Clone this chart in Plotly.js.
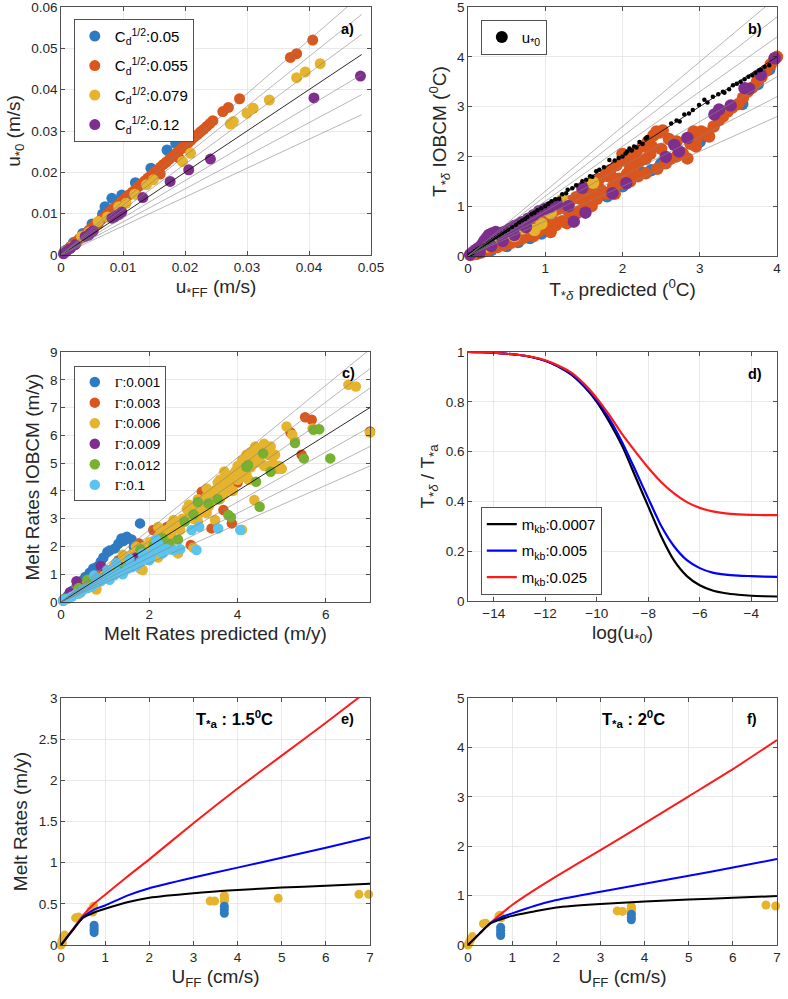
<!DOCTYPE html>
<html>
<head>
<meta charset="utf-8">
<script src="https://cdn.plot.ly/plotly-3.0.1.min.js"></script>
<style>html,body{margin:0;padding:0;background:#fff}#chart{width:788px;height:999px}</style>
</head>
<body>
<div id="chart"></div>
<script>
// ---------- Colors ----------
const C_BLUE = '#2f7bc2', C_ORANGE = '#db561d', C_YELLOW = '#e6b32c', C_PURPLE = '#7e2f8e', C_GREEN = '#78b030', C_CYAN = '#59c4f0';

// ---------- Reference slopes (panels a, b, c) ----------
const refSlopes = [0.7, 0.8, 0.9, 1.0, 1.1, 1.2, 1.3];

// ---------- Panel a ----------
const a_blue_x = [0.0008,0.002,0.0035,0.005,0.0067,0.0071,0.0082,0.0098,0.012,0.0145,0.0171,0.0185,0.0198];
const a_blue_y = [0.0012,0.003,0.0052,0.0075,0.0099,0.0117,0.0137,0.0145,0.0175,0.021,0.0254,0.027,0.029];
const a_orange_x = [0.0005,0.001,0.0015,0.002,0.0025,0.003,0.0035,0.004,0.0045,0.005,0.0055,0.006,0.0065,0.007,0.0075,0.008,0.0085,0.009,0.0095,0.010,0.0105,0.011,0.0115,0.012,0.0125,0.013,0.0135,0.014,0.0145,0.015,0.0155,0.016,0.0165,0.017,0.0175,0.018,0.0185,0.019,0.0195,0.020,0.0205,0.021,0.0215,0.022,0.0225,0.023,0.0235,0.024,0.0245,0.0261,0.027,0.0288,0.037,0.038,0.0406,0.0025,0.0035,0.006,0.008,0.012,0.016,0.019];
const a_orange_y = [0.0007,0.0013,0.002,0.0027,0.0033,0.004,0.0046,0.0053,0.006,0.0066,0.0073,0.008,0.0086,0.0093,0.0099,0.0106,0.0113,0.0119,0.0126,0.0133,0.0139,0.0146,0.0152,0.0159,0.0166,0.0172,0.0179,0.0186,0.0192,0.0199,0.0205,0.0212,0.0219,0.0225,0.0232,0.0238,0.0245,0.0252,0.0258,0.0265,0.0271,0.0278,0.0285,0.0291,0.0298,0.0304,0.0311,0.0318,0.0325,0.0347,0.0357,0.0378,0.0478,0.0487,0.052,0.003,0.0043,0.0075,0.0098,0.0148,0.0196,0.0235];
const a_yellow_x = [0.0008,0.0018,0.0033,0.0045,0.006,0.0075,0.0093,0.0105,0.0119,0.0138,0.0149,0.0196,0.0209,0.0273,0.0278,0.03,0.031,0.0336,0.038,0.0394,0.0418];
const a_yellow_y = [0.0009,0.002,0.0045,0.0055,0.0081,0.0092,0.0117,0.0125,0.0147,0.017,0.0182,0.0226,0.0246,0.0317,0.0323,0.0343,0.0355,0.0375,0.0429,0.0443,0.0463];
const a_purple_x = [0.0004,0.0009,0.0015,0.0023,0.0039,0.0045,0.0047,0.0052,0.0082,0.0087,0.0093,0.0098,0.0132,0.0176,0.0206,0.0241,0.0408,0.0483];
const a_purple_y = [0.0003,0.0009,0.0016,0.0025,0.0045,0.0048,0.0053,0.0058,0.0089,0.0092,0.0098,0.0104,0.0139,0.0178,0.0206,0.0232,0.038,0.0433];
const a_refXmax = 0.0485;

// ---------- Panel b ----------
const b_blue_x = [0.1,0.3,0.5,0.65,0.8,0.95,1.0,1.3,1.4,1.63,1.8,2.0,2.24,2.37,2.5,2.76,3.0,3.25,3.55,3.75,3.9];
const b_blue_y = [0.04,0.12,0.2,0.28,0.36,0.45,0.5,0.68,0.85,1.45,1.2,1.4,1.68,1.72,1.85,2.08,2.3,2.75,3.05,3.45,3.75];
const b_orange_x = [0.03,0.08,0.12,0.17,0.2,0.25,0.3,0.33,0.38,0.42,0.46,0.5,0.55,0.58,0.62,0.66,0.7,0.74,0.78,0.82,0.85,0.88,0.92,0.96,1.0,1.03,1.07,1.1,1.14,1.18,1.22,1.25,1.28,1.32,1.36,1.4,1.44,1.48,1.52,1.56,1.6,1.63,1.67,1.7,1.74,1.78,1.8,1.84,1.88,1.92,1.96,2.0,2.02,2.06,2.1,2.14,2.18,2.22,2.26,2.3,2.33,2.36,2.4,2.44,2.48,2.52,2.45,2.56,2.62,2.7,2.78,2.84,2.88,2.92,2.96,3.02,3.08,3.12,3.18,3.25,3.3,3.36,3.42,3.5,3.56,3.62,3.68,3.74,3.8,3.86,3.92,3.97,4.0,1.9,2.1,1.2,0.98,1.45,1.65,2.2,1.5,1.7,1.9,2.1,2.3,2.5,2.7,1.3,1.1,0.9,2.0,1.58,1.82,2.38,2.6,2.95];
const b_orange_y = [0.02,0.04,0.05,0.07,0.1,0.12,0.15,0.2,0.18,0.25,0.22,0.3,0.26,0.35,0.3,0.42,0.35,0.5,0.42,0.58,0.4,0.65,0.5,0.72,0.55,0.8,0.48,0.88,0.62,0.95,0.7,1.02,0.66,1.1,0.82,1.18,0.9,1.28,1.05,1.38,1.0,1.48,1.15,1.55,1.3,1.62,1.26,1.72,1.4,1.82,1.55,1.46,1.92,1.65,2.0,1.78,2.1,1.9,2.2,1.66,2.3,2.05,2.42,2.5,2.48,2.52,1.75,1.86,1.95,2.0,2.06,1.96,2.25,2.5,2.35,2.5,2.46,2.4,2.6,2.73,2.8,2.9,2.98,3.05,3.18,3.3,3.38,3.5,3.6,3.72,3.85,3.95,4.0,1.25,1.5,1.05,0.88,1.15,1.35,1.6,1.15,1.35,1.55,1.75,1.95,2.15,2.3,0.9,0.7,0.55,2.05,1.25,1.6,2.2,2.35,2.2];
const b_yellow_x = [0.05,0.12,0.25,0.4,0.51,0.6,0.7,0.86,0.95,1.07,1.22,1.62];
const b_yellow_y = [0.04,0.1,0.19,0.35,0.46,0.4,0.55,0.52,0.65,0.86,1.13,1.47];
const b_purple_x = [0.03,0.07,0.1,0.14,0.18,0.21,0.24,0.27,0.31,0.36,0.4,0.45,0.5,0.55,0.6,0.65,0.7,0.78,0.85,0.92,1.0,1.07,1.15,1.3,1.37,1.48,1.52,1.87,2.05,2.56,2.67,2.73,2.84,3.19,3.25,3.4,3.58,3.64,3.79,3.97,0.15,0.3,0.45,0.6,0.75];
const b_purple_y = [0.03,0.08,0.12,0.16,0.22,0.3,0.36,0.42,0.45,0.48,0.45,0.47,0.5,0.55,0.6,0.63,0.68,0.75,0.82,0.9,0.95,0.99,1.05,1.0,0.69,1.37,0.87,1.26,1.46,1.99,2.23,2.1,2.37,2.84,2.94,3.02,3.37,3.36,3.64,3.97,0.08,0.2,0.3,0.42,0.58];
const b_u0_x = [0.03,0.06,0.09,0.12,0.15,0.18,0.21,0.25,0.28,0.32,0.36,0.4,0.44,0.48,0.52,0.57,0.62,0.66,0.7,0.74,0.77,0.82,0.86,0.9,0.95,1.0,1.04,1.08,1.13,1.18,1.22,1.27,1.29,1.35,1.4,1.48,1.53,1.58,1.61,1.66,1.7,1.76,1.83,1.9,1.95,2.0,2.04,2.06,2.09,2.12,2.15,2.18,2.22,2.26,2.3,2.32,2.63,2.7,2.74,2.8,2.86,2.91,2.99,3.06,3.1,3.17,3.24,3.3,3.32,3.38,3.43,3.48,3.53,3.58,3.63,3.68,3.72,3.77,3.79,3.84,3.9];
const b_u0_y = [0.03,0.06,0.1,0.13,0.16,0.19,0.22,0.26,0.29,0.33,0.37,0.41,0.45,0.49,0.53,0.58,0.63,0.68,0.72,0.75,0.79,0.84,0.87,0.92,0.96,1.0,1.05,1.1,1.14,1.15,1.24,1.26,1.33,1.36,1.42,1.5,1.53,1.6,1.59,1.7,1.73,1.78,1.93,1.92,1.97,2.0,2.06,2.1,2.16,2.12,2.2,2.18,2.29,2.25,2.36,2.39,2.66,2.72,2.7,2.84,2.86,2.93,3.03,3.14,3.08,3.2,3.25,3.3,3.28,3.35,3.43,3.46,3.5,3.55,3.6,3.63,3.68,3.73,3.74,3.8,3.83];
const b_refXmax = 4;

// ---------- Panel c ----------
const c_blue_x = [0.05,0.08,0.15,0.25,0.35,0.45,0.55,0.65,0.73,0.82,0.9,0.96,1.05,1.1,1.22,1.3,1.37,1.42,1.49,1.6,1.65,1.75,1.79];
const c_blue_y = [0.06,0.12,0.22,0.4,0.55,0.75,0.9,1.05,1.21,1.27,1.45,1.6,1.8,1.85,1.93,2.1,2.29,2.2,2.35,2.25,2.0,2.1,2.83];
const c_orange_x = [0.05,0.3,0.6,0.9,1.2,1.3,1.7,1.77,2.09,2.2,2.4,2.9,2.94,3.19,3.41,3.68,3.87,4.0,5.2,5.45,5.53,5.68,7.0];
const c_orange_y = [0.05,0.4,0.7,1.0,1.1,1.5,1.4,2.11,2.59,2.3,2.7,3.4,2.05,3.97,2.65,3.31,2.83,4.3,6.1,5.3,6.65,6.56,6.14];
const c_yellow_x = [0.1,0.2,0.3,0.4,0.5,0.6,0.7,0.8,0.8,0.85,1.0,1.1,1.2,1.3,1.4,1.5,1.6,1.7,1.8,1.85,1.9,2.0,2.1,2.2,2.2,2.3,2.4,2.5,2.6,2.65,2.7,2.75,2.8,2.9,3.0,3.0,3.0,3.1,3.2,3.3,3.3,3.4,3.45,3.49,3.5,3.6,3.65,3.7,3.8,3.85,3.9,3.95,4.0,4.05,4.1,4.1,4.15,4.2,4.25,4.3,4.35,4.38,4.4,4.45,4.5,4.55,4.6,4.65,4.7,4.75,4.8,4.9,5.0,5.11,5.24,5.3,5.7,6.51,6.68,7.0,2.35,2.55,2.85,3.15,3.35,3.55,3.75,4.0,4.2,4.3,4.45,4.6,4.7,4.85,4.95,2.45,2.0,1.6,2.5,2.9,3.1,3.3,3.6,3.9,4.1,4.4,4.6,4.25,3.7,2.2,1.7,1.4];
const c_yellow_y = [0.1,0.18,0.35,0.3,0.55,0.5,0.75,0.5,0.45,0.85,1.05,0.95,1.3,1.15,1.5,1.35,1.7,1.55,1.2,1.15,2.0,1.8,2.2,2.35,1.6,2.1,2.6,2.5,2.8,1.75,2.6,3.0,2.9,3.2,3.0,3.3,1.95,2.9,3.5,3.8,4.09,3.6,4.0,2.95,3.85,3.7,4.1,3.9,4.2,4.5,4.0,4.7,4.4,4.8,4.5,2.6,5.0,4.6,5.2,4.85,5.3,3.67,5.0,5.5,5.1,5.55,4.9,5.6,5.3,5.6,5.0,4.8,4.8,6.32,6.02,5.8,6.25,7.82,7.76,6.1,2.55,2.95,3.35,3.2,3.45,4.3,4.4,4.9,5.3,5.4,5.2,5.45,4.9,5.3,4.9,2.3,2.15,1.45,2.8,3.5,3.7,3.2,4.4,4.6,5.1,5.6,5.7,4.4,4.7,2.7,2.0,1.7];
const c_purple_x = [0.2,0.35,0.4,0.9,1.35,1.7];
const c_purple_y = [0.35,0.75,0.55,1.3,1.25,1.6];
const c_green_x = [0.1,0.4,0.6,0.8,1.0,1.3,1.5,1.8,2.1,2.3,2.45,2.65,2.8,3.0,3.1,3.34,3.55,3.79,3.85,4.2,4.24,4.42,4.5,4.58,4.75,5.3,5.5,5.72,5.85,6.1];
const c_green_y = [0.12,0.5,0.8,0.75,0.9,1.2,1.3,1.9,2.05,2.3,2.1,2.25,2.9,3.15,3.6,3.55,3.7,3.13,3.05,4.87,4.93,4.33,3.43,5.35,4.69,5.72,5.17,6.2,6.22,5.17];
const c_cyan_x = [0.05,0.15,0.25,0.35,0.45,0.5,0.6,0.7,0.75,0.8,0.9,1.0,1.05,1.1,1.2,1.25,1.3,1.4,1.5,1.55,1.6,1.7,1.8,1.85,1.9,2.0,2.05,2.1,2.15,2.2,2.24,2.3,2.4,2.55,2.7,2.96,3.07,3.13,3.56,4.06];
const c_cyan_y = [0.05,0.12,0.2,0.3,0.35,0.45,0.5,0.55,0.95,0.7,0.75,0.85,1.15,0.8,0.95,1.4,1.05,1.0,1.2,1.55,1.25,1.3,1.45,1.75,1.55,1.5,1.7,1.9,2.25,2.1,1.99,1.75,1.9,1.87,1.9,2.59,1.87,2.71,2.65,2.59];
const c_refXmax = 7;

// ---------- Panel d ----------
const d_x     = [-15,-14.5,-14,-13.5,-13,-12.5,-12,-11.5,-11,-10.5,-10,-9.5,-9,-8.5,-8,-7.5,-7,-6.5,-6,-5.5,-5,-4.5,-4,-3.5,-3];
const d_black = [1.0,0.999,0.997,0.993,0.988,0.979,0.965,0.942,0.91,0.862,0.80,0.717,0.62,0.5,0.38,0.26,0.163,0.1,0.063,0.042,0.031,0.025,0.021,0.019,0.018];
const d_blue  = [1.0,0.999,0.997,0.993,0.988,0.979,0.965,0.943,0.912,0.866,0.807,0.73,0.635,0.525,0.412,0.302,0.22,0.164,0.132,0.114,0.106,0.102,0.1,0.098,0.097];
const d_red   = [1.0,0.999,0.997,0.993,0.988,0.98,0.967,0.946,0.918,0.873,0.815,0.745,0.668,0.6,0.535,0.478,0.432,0.397,0.374,0.36,0.352,0.348,0.346,0.345,0.345];

// ---------- Panels e, f ----------
const ef_x    = [0,0.25,0.5,0.75,1,1.5,2,3,4,5,6,7];
const e_red   = [0,0.18,0.36,0.5,0.61,0.83,1.04,1.48,1.9,2.3,2.7,3.11];
const e_blue  = [0,0.17,0.34,0.43,0.48,0.6,0.69,0.82,0.94,1.06,1.18,1.31];
const e_black = [0,0.17,0.33,0.395,0.44,0.52,0.575,0.63,0.668,0.697,0.72,0.743];
const e_yel_x = [0,0.02,0.03,0.05,0.08,0.33,0.4,0.68,0.72,0.74,3.38,3.48,3.7,3.7,3.7,3.7,4.92,6.75,6.97];
const e_yel_y = [0,0.05,0.02,0.1,0.12,0.33,0.34,0.42,0.4,0.47,0.534,0.534,0.6,0.58,0.56,0.53,0.567,0.615,0.615];
const e_blu_x = [0.75,0.75,0.75,0.75,3.7,3.7,3.7];
const e_blu_y = [0.24,0.21,0.18,0.15,0.47,0.43,0.385];
const f_red   = [0,0.22,0.44,0.63,0.81,1.11,1.39,1.92,2.46,3.01,3.56,4.15];
const f_blue  = [0,0.22,0.44,0.56,0.64,0.79,0.91,1.08,1.24,1.4,1.57,1.74];
const f_black = [0,0.22,0.43,0.52,0.59,0.68,0.76,0.83,0.88,0.92,0.955,0.99];
const f_yel_x = [0,0.03,0.06,0.1,0.35,0.4,0.7,0.72,0.75,3.38,3.5,3.7,3.7,3.7,3.7,6.75,6.97];
const f_yel_y = [0,0.05,0.11,0.17,0.43,0.44,0.58,0.6,0.55,0.69,0.68,0.78,0.74,0.7,0.66,0.81,0.79];
const f_blu_x = [0.74,0.74,0.74,0.74,3.7,3.7,3.7];
const f_blu_y = [0.36,0.3,0.24,0.19,0.62,0.56,0.51];

// ---------- Labels ----------
const a_names = ['C<sub>d</sub><sup>1/2</sup>:0.05','C<sub>d</sub><sup>1/2</sup>:0.055','C<sub>d</sub><sup>1/2</sup>:0.079','C<sub>d</sub><sup>1/2</sup>:0.12'];
const G = '<span style="font-family:Liberation Serif,Times New Roman,serif">Γ</span>';
const c_names = [G+':0.001',G+':0.003',G+':0.006',G+':0.009',G+':0.012',G+':0.1'];
const d_names = ['m<sub>kb</sub>:0.0007','m<sub>kb</sub>:0.005','m<sub>kb</sub>:0.025'];

// ---------- Build traces ----------
const FONT = 'Liberation Sans, Arial, sans-serif';
const traces = [];
let gid = 0;
function pts(x, y, xa, ya, color, size, name, legend) {
  const t = {x, y, xaxis: xa, yaxis: ya, type: 'scatter', mode: 'markers', cliponaxis: false,
    marker: {color, size, line: {width: 0}}, hoverinfo: 'skip'};
  if (name) { t.name = name; t.legend = legend; t.showlegend = true; t.legendgroup = 'g' + (gid++); } else { t.showlegend = false; }
  traces.push(t);
}
function refLines(xa, ya, xmax) {
  refSlopes.forEach(k => traces.push({x: [0, xmax], y: [0, k * xmax], xaxis: xa, yaxis: ya, type: 'scatter', mode: 'lines',
    line: {color: k === 1 ? '#111' : '#858585', width: k === 1 ? 0.9 : 0.6}, showlegend: false, hoverinfo: 'skip'}));
}
function curve(x, y, xa, ya, color, width, name, legend) {
  const t = {x, y, xaxis: xa, yaxis: ya, type: 'scatter', mode: 'lines', line: {color, width, shape: 'spline', smoothing: 0.6}, hoverinfo: 'skip'};
  if (name) { t.name = name; t.legend = legend; t.showlegend = true; t.legendgroup = 'g' + (gid++); } else { t.showlegend = false; }
  traces.push(t);
}

// a
pts(a_blue_x, a_blue_y, 'x', 'y', C_BLUE, 11, a_names[0], 'legend');
pts(a_orange_x, a_orange_y, 'x', 'y', C_ORANGE, 11, a_names[1], 'legend');
pts(a_yellow_x, a_yellow_y, 'x', 'y', C_YELLOW, 11, a_names[2], 'legend');
pts(a_purple_x, a_purple_y, 'x', 'y', C_PURPLE, 11, a_names[3], 'legend');
refLines('x', 'y', a_refXmax);
// b
pts(b_blue_x, b_blue_y, 'x2', 'y2', C_BLUE, 12.5);
pts(b_orange_x, b_orange_y, 'x2', 'y2', C_ORANGE, 12.5);
pts(b_yellow_x, b_yellow_y, 'x2', 'y2', C_YELLOW, 12.5);
pts(b_purple_x, b_purple_y, 'x2', 'y2', C_PURPLE, 12.5);
pts(b_u0_x, b_u0_y, 'x2', 'y2', '#000', 4.5, 'u<sub>*0</sub>', 'legend2');
refLines('x2', 'y2', b_refXmax);
// c
pts(c_blue_x, c_blue_y, 'x3', 'y3', C_BLUE, 10.5, c_names[0], 'legend3');
pts(c_orange_x, c_orange_y, 'x3', 'y3', C_ORANGE, 10.5, c_names[1], 'legend3');
pts(c_yellow_x, c_yellow_y, 'x3', 'y3', C_YELLOW, 10.5, c_names[2], 'legend3');
pts(c_purple_x, c_purple_y, 'x3', 'y3', C_PURPLE, 10.5, c_names[3], 'legend3');
pts(c_green_x, c_green_y, 'x3', 'y3', C_GREEN, 10.5, c_names[4], 'legend3');
pts(c_cyan_x, c_cyan_y, 'x3', 'y3', C_CYAN, 10.5, c_names[5], 'legend3');
refLines('x3', 'y3', c_refXmax);
// d
curve(d_x, d_black, 'x4', 'y4', '#000000', 2.2, d_names[0], 'legend4');
curve(d_x, d_blue, 'x4', 'y4', '#0000ff', 2.2, d_names[1], 'legend4');
curve(d_x, d_red, 'x4', 'y4', '#ff1a1a', 2.2, d_names[2], 'legend4');
// e
pts(e_yel_x, e_yel_y, 'x5', 'y5', C_YELLOW, 9);
pts(e_blu_x, e_blu_y, 'x5', 'y5', C_BLUE, 9);
curve(ef_x, e_red, 'x5', 'y5', '#ff1a1a', 2);
curve(ef_x, e_blue, 'x5', 'y5', '#0000ff', 2);
curve(ef_x, e_black, 'x5', 'y5', '#000000', 2);
// f
pts(f_yel_x, f_yel_y, 'x6', 'y6', C_YELLOW, 9);
pts(f_blu_x, f_blu_y, 'x6', 'y6', C_BLUE, 9);
curve(ef_x, f_red, 'x6', 'y6', '#ff1a1a', 2);
curve(ef_x, f_blue, 'x6', 'y6', '#0000ff', 2);
curve(ef_x, f_black, 'x6', 'y6', '#000000', 2);

// ---------- Layout ----------
const W = 788, H = 999;
const dx = (l, r) => [l / W, r / W];
const dy = (t, b) => [1 - b / H, 1 - t / H];
function ax(domain, range, anchor, extra) {
  return Object.assign({domain, range, anchor, showline: true, linecolor: '#262626', linewidth: 0.8, mirror: 'ticks',
    ticks: 'inside', ticklen: 4, tickcolor: '#262626', tickwidth: 0.8, showgrid: true, gridcolor: '#e4e4e4', gridwidth: 0.8,
    zeroline: false, ticklabeloverflow: 'allow', tickfont: {family: FONT, size: 13.5, color: '#262626'}, fixedrange: true}, extra);
}
const ttl = (text) => ({text, font: {family: FONT, size: 19, color: '#262626'}, standoff: 5});
function lbl(xr, yr, xf, yf, text, size) {
  return {xref: xr, yref: yr, x: xf, y: yf, text, showarrow: false, font: {family: FONT, size: size || 14.5, color: '#000'}, xanchor: 'center', yanchor: 'middle'};
}
const legBase = {bordercolor: '#262626', borderwidth: 0.8, bgcolor: '#ffffff', xanchor: 'left', yanchor: 'top', font: {family: FONT, size: 14, color: '#000'}, itemclick: false, traceorder: 'grouped'};

const layout = {
  width: W, height: H, margin: {l: 0, r: 0, t: 0, b: 0}, paper_bgcolor: '#fff', plot_bgcolor: '#fff',
  font: {family: FONT, color: '#262626'}, showlegend: true,
  xaxis:  ax(dx(61, 371), [0, 0.05], 'y',  {dtick: 0.01, title: ttl('u<sub>*FF</sub> (m/s)')}),
  yaxis:  ax(dy(7, 255), [0, 0.06], 'x',   {dtick: 0.01, title: ttl('u<sub>*0</sub> (m/s)')}),
  xaxis2: ax(dx(468, 777), [0, 4], 'y2',  {dtick: 1, title: ttl('T<sub>*<i>δ</i></sub> predicted (<sup>0</sup>C)')}),
  yaxis2: ax(dy(7, 256), [0, 5], 'x2',    {dtick: 1, title: ttl('T<sub>*<i>δ</i></sub> IOBCM (<sup>0</sup>C)')}),
  xaxis3: ax(dx(61, 370), [0, 7], 'y3',   {dtick: 2, title: ttl('Melt Rates predicted (m/y)')}),
  yaxis3: ax(dy(352, 602), [0, 9], 'x3',  {dtick: 1, title: ttl('Melt Rates IOBCM (m/y)')}),
  xaxis4: ax(dx(468, 777), [-15, -3], 'y4', {tick0: -14, dtick: 2, title: ttl('log(u<sub>*0</sub>)')}),
  yaxis4: ax(dy(352, 601), [0, 1], 'x4',  {dtick: 0.2, title: ttl('T<sub>*<i>δ</i></sub> / T<sub>*a</sub>')}),
  xaxis5: ax(dx(61, 370), [0, 7], 'y5',   {dtick: 1, title: ttl('U<sub>FF</sub> (cm/s)')}),
  yaxis5: ax(dy(698, 945), [0, 3], 'x5',  {dtick: 0.5, title: ttl('Melt Rates (m/y)')}),
  xaxis6: ax(dx(468, 777), [0, 7], 'y6',  {dtick: 1, title: ttl('U<sub>FF</sub> (cm/s)')}),
  yaxis6: ax(dy(698, 945), [0, 5], 'x6',  {dtick: 1}),
  legend:  Object.assign({}, legBase, {x: 74 / W, y: 1 - 19 / H, tracegroupgap: 7, font: {family: FONT, size: 15, color: '#000'}}),
  legend2: Object.assign({}, legBase, {x: 481 / W, y: 1 - 20 / H, itemsizing: 'constant', font: {family: FONT, size: 15, color: '#000'}}),
  legend3: Object.assign({}, legBase, {x: 74 / W, y: 1 - 366 / H, tracegroupgap: 0, font: {family: FONT, size: 13.5, color: '#000'}}),
  legend4: Object.assign({}, legBase, {x: 481 / W, y: 1 - 507 / H, tracegroupgap: 4, font: {family: FONT, size: 15, color: '#000'}}),
  annotations: [
    lbl('x domain', 'y domain', 0.923, 0.911, '<b>a)</b>'),
    lbl('x2 domain', 'y2 domain', 0.929, 0.912, '<b>b)</b>'),
    lbl('x3 domain', 'y3 domain', 0.929, 0.916, '<b>c)</b>'),
    lbl('x4 domain', 'y4 domain', 0.929, 0.912, '<b>d)</b>'),
    lbl('x5 domain', 'y5 domain', 0.926, 0.915, '<b>e)</b>'),
    lbl('x6 domain', 'y6 domain', 0.919, 0.915, '<b>f)</b>'),
    lbl('x5 domain', 'y5 domain', 0.563, 0.915, '<b>T<sub>*a</sub> : 1.5<sup>0</sup>C</b>', 16.5),
    lbl('x6 domain', 'y6 domain', 0.534, 0.915, '<b>T<sub>*a</sub> : 2<sup>0</sup>C</b>', 16.5)
  ]
};

Plotly.newPlot('chart', traces, layout, {staticPlot: true, displayModeBar: false});
</script>
</body>
</html>
